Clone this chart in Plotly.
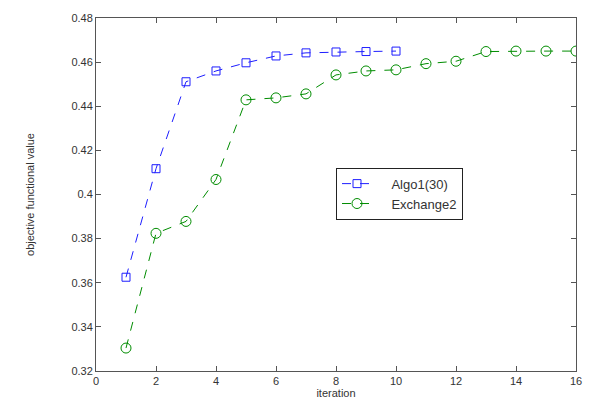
import plotly.graph_objects as go

iter_algo = [1, 2, 3, 4, 5, 6, 7, 8, 9, 10]
algo_vals = [0.3625, 0.4117, 0.4511, 0.4560, 0.4597, 0.4628, 0.4642, 0.4646, 0.4648, 0.4650]

iter_exch = list(range(1, 17))
exch_vals = [0.3304, 0.3824, 0.3878, 0.4068, 0.4429, 0.4438, 0.4456, 0.4542,
             0.4560, 0.4565, 0.4593, 0.4604, 0.4648, 0.4650, 0.4650, 0.4650]

x_ticks = [0, 2, 4, 6, 8, 10, 12, 14, 16]
y_ticks = [0.32, 0.34, 0.36, 0.38, 0.40, 0.42, 0.44, 0.46, 0.48]
y_tick_text = ["0.32", "0.34", "0.36", "0.38", "0.4", "0.42", "0.44", "0.46", "0.48"]

pad = "\u00a0" * 4
FONT = "Liberation Sans, Arial"

fig = go.Figure()
fig.add_trace(go.Scatter(
    x=iter_algo, y=algo_vals, name=pad + "Algo1(30)", mode="lines+markers",
    line=dict(color="rgb(30,30,255)", width=1, dash="dash"),
    marker=dict(symbol="square-open", size=8, color="rgb(30,30,255)", line=dict(width=1)),
))
fig.add_trace(go.Scatter(
    x=iter_exch, y=exch_vals, name=pad + "Exchange2", mode="lines+markers",
    line=dict(color="rgb(0,140,0)", width=1, dash="dash"),
    marker=dict(symbol="circle-open", size=10, color="rgb(0,140,0)", line=dict(width=1)),
))

axis_common = dict(
    showline=True, linecolor="#555", linewidth=1, mirror="ticks",
    ticks="inside", ticklen=5, tickcolor="#555", showgrid=False, zeroline=False,
    tickfont=dict(family=FONT, size=11, color="#333"),
)
fig.update_xaxes(range=[0, 16], tickvals=x_ticks,
                 title=dict(text="iteration", font=dict(family=FONT, size=11, color="#333"), standoff=2),
                 **axis_common)
fig.update_yaxes(range=[0.32, 0.48], tickvals=y_ticks, ticktext=y_tick_text,
                 title=dict(text="objective functional value", font=dict(family=FONT, size=11, color="#333"), standoff=34),
                 **axis_common)

fig.update_layout(
    width=594, height=412,
    margin=dict(l=96, r=16, t=17, b=41),
    paper_bgcolor="white", plot_bgcolor="white",
    showlegend=True,
    legend=dict(x=0.5, y=0.576, xanchor="left", yanchor="top",
                bgcolor="white", bordercolor="#222", borderwidth=1,
                font=dict(family=FONT, size=13, color="#333"),
                tracegroupgap=0, itemwidth=30),
)

fig.write_html("out.html")
